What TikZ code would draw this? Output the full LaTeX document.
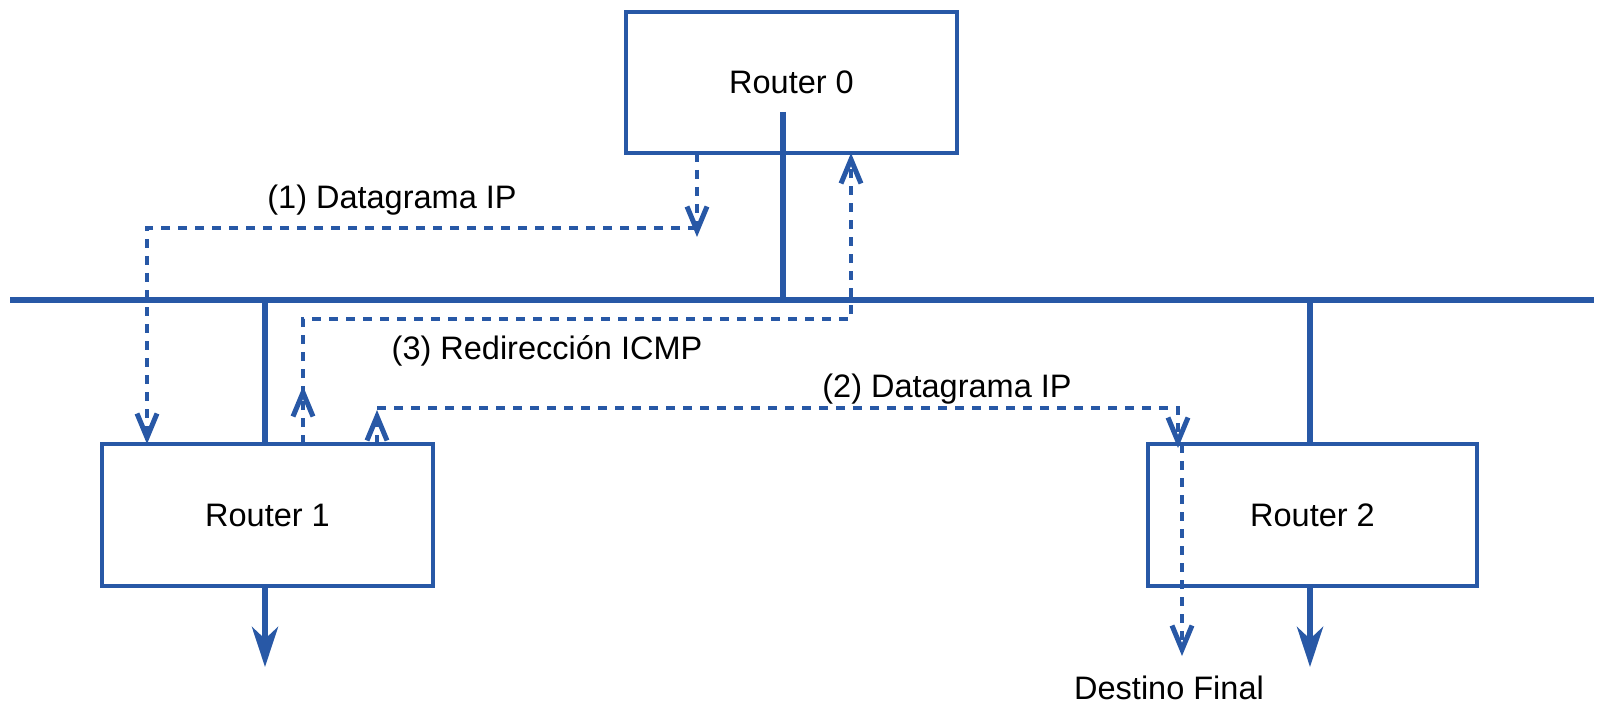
\documentclass[tikz,border=0pt]{standalone}
\usepackage{fontspec}
\setmainfont{Liberation Sans}
\usetikzlibrary{arrows.meta}

\definecolor{netblue}{RGB}{40,88,166}
\newcommand{\boxlw}{4pt}
\newcommand{\rbox}{\node[draw=netblue, line width=\boxlw, inner sep=0pt, outer sep=0pt, minimum height=142pt]}
\newcommand{\lbl}{\node[inner sep=0pt, anchor=base]}

\tikzset{
  bus/.style={draw=netblue, line width=6pt},
  outarrow/.style={bus, -{Stealth[length=40pt, width=26pt, inset=12pt]}},
  msg/.style={draw=netblue, line width=4pt, dash pattern=on 9pt off 8pt},
  msgarrow/.style={msg, -{Straight Barb[length=24pt, width=20pt, line width=5pt]}},
}

\begin{document}
\begin{tikzpicture}[x=1pt, y=-1pt, font=\fontsize{32.5}{38}\selectfont]
            \useasboundingbox (0,0) rectangle (1597,703);

            \rbox[minimum width=331pt, minimum height=141pt] (r0) at (791.5,82.5) {Router 0};
            \rbox[minimum width=331pt] (r1) at (267.5,515) {Router 1};
            \rbox[minimum width=329pt] (r2) at (1312.5,515) {Router 2};

            \coordinate (busL) at (10,300);
            \coordinate (busR) at (1594,300);
            \coordinate (t0) at (783,112);
            \coordinate (t1) at (265,300);
            \coordinate (t2) at (1310,300);
            \coordinate (o1) at (265,667);
            \coordinate (o2) at (1310,667);

            \draw[bus] (busL) -- (busR);
            \draw[bus]
                (t0) -- (t0 |- busL)
                (t1) -- (t1 |- r1.north)
                (t2) -- (t2 |- r2.north)
                ;
            \draw[outarrow] (o1 |- r1.south) -- (o1);
            \draw[outarrow] (o2 |- r2.south) -- (o2);

            % (1) datagram
            \coordinate (m1a) at (697,153);
            \coordinate (m1b) at (697,237);
            \coordinate (m1c) at (697,228);
            \coordinate (m1d) at (147,444);
            \draw[msgarrow] (m1a) -- (m1b);
            \draw[msgarrow] (m1c) -| (m1d);

            % (2) datagram
            \coordinate (m2a) at (377,444);
            \coordinate (m2b) at (377,410);
            \coordinate (m2c) at (377,408);
            \coordinate (m2d) at (1178,448);
            \coordinate (m2e) at (1182,444);
            \coordinate (m2f) at (1182,656);
            \draw[msgarrow] (m2a) -- (m2b);
            \draw[msgarrow] (m2c) -| (m2d);
            \draw[msgarrow] (m2e) -- (m2f);

            % (3) redirect
            \coordinate (m3a) at (303,444);
            \coordinate (m3b) at (303,386);
            \coordinate (m3c) at (303,395);
            \coordinate (m3d) at (851,319);
            \coordinate (m3e) at (851,153);
            \draw[msgarrow] (m3a) -- (m3b);
            \draw[msgarrow] (m3c) |- (m3d) -- (m3e);

            \lbl (l1) at (392,209) {(1) Datagrama IP};
            \lbl (l3) at (547,359) {(3) Redirección ICMP};
            \lbl (l2) at (947,397) {(2) Datagrama IP};
            \lbl (dst) at (1169,699) {Destino Final};
        \end{tikzpicture}
\end{document}
